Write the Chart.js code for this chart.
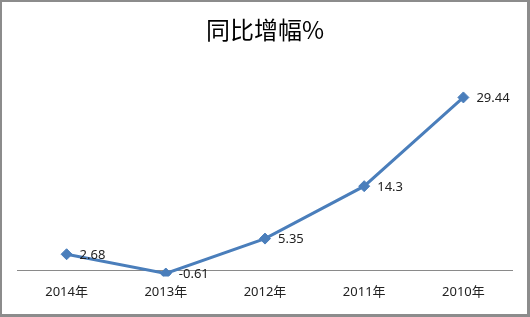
<!DOCTYPE html>
<html>
<head>
<meta charset="utf-8">
<script src="https://cdn.jsdelivr.net/npm/chart.js@4/dist/chart.umd.min.js"></script>
<style>
  html, body { margin: 0; padding: 0; background: #fff; }
  #wrap {
    width: 530px; height: 317px; box-sizing: border-box;
    border-style: solid; border-color: #8c8c8c;
    border-width: 2px 3px 3px 2px;
  }
  canvas { display: block; }
</style>
</head>
<body>
<div id="wrap"><canvas id="chart1" width="525" height="312"></canvas></div>
<script>
const years = ["2014年", "2013年", "2012年", "2011年", "2010年"];
const growth = [2.68, -0.61, 5.35, 14.3, 29.44];

const LINE = '#4a7ebb';
const FONT = "'Noto Sans', 'Noto Sans CJK SC', sans-serif";

// zero line + value labels to the right of each point
const extras = {
  id: 'extras',
  beforeDatasetsDraw(chart) {
    const { ctx, chartArea, scales } = chart;
    const y0 = Math.round(scales.y.getPixelForValue(0)) + 0.5;
    ctx.save();
    ctx.strokeStyle = '#8a8a8a';
    ctx.lineWidth = 1;
    ctx.beginPath();
    ctx.moveTo(chartArea.left, y0);
    ctx.lineTo(chartArea.right, y0);
    ctx.stroke();
    ctx.restore();
  },
  afterDatasetsDraw(chart) {
    const { ctx } = chart;
    const meta = chart.getDatasetMeta(0);
    ctx.save();
    ctx.font = '13px ' + FONT;
    ctx.fillStyle = '#222';
    ctx.textBaseline = 'middle';
    ctx.textAlign = 'left';
    meta.data.forEach((pt, i) => {
      ctx.fillText(String(growth[i]), pt.x + 13, pt.y + 1);
    });
    ctx.restore();
  }
};

new Chart(document.getElementById("chart1"), {
  type: "line",
  data: {
    labels: years,
    datasets: [{
      data: growth,
      borderColor: LINE,
      backgroundColor: LINE,
      borderWidth: 3,
      tension: 0,
      pointStyle: 'rectRot',
      pointRadius: 5.5,
      pointBackgroundColor: LINE,
      pointBorderColor: LINE,
      pointBorderWidth: 1,
    }]
  },
  options: {
    responsive: false,
    animation: false,
    layout: { padding: { left: 15, right: 14, top: 0, bottom: 6 } },
    plugins: {
      legend: { display: false },
      tooltip: { enabled: false },
      title: {
        display: true,
        text: "同比增幅%",
        color: '#000',
        font: { family: "'Noto Sans CJK SC', sans-serif", size: 24, weight: 'normal' },
        padding: { top: 13, bottom: 20 }
      }
    },
    scales: {
      x: {
        offset: true,
        grid: { display: false, drawTicks: false },
        border: { display: false },
        ticks: { color: '#222', padding: 8, font: { family: FONT, size: 13 } }
      },
      y: { display: false, min: -1.1, max: 35.18 }
    }
  },
  plugins: [extras]
});
</script>
</body>
</html>
